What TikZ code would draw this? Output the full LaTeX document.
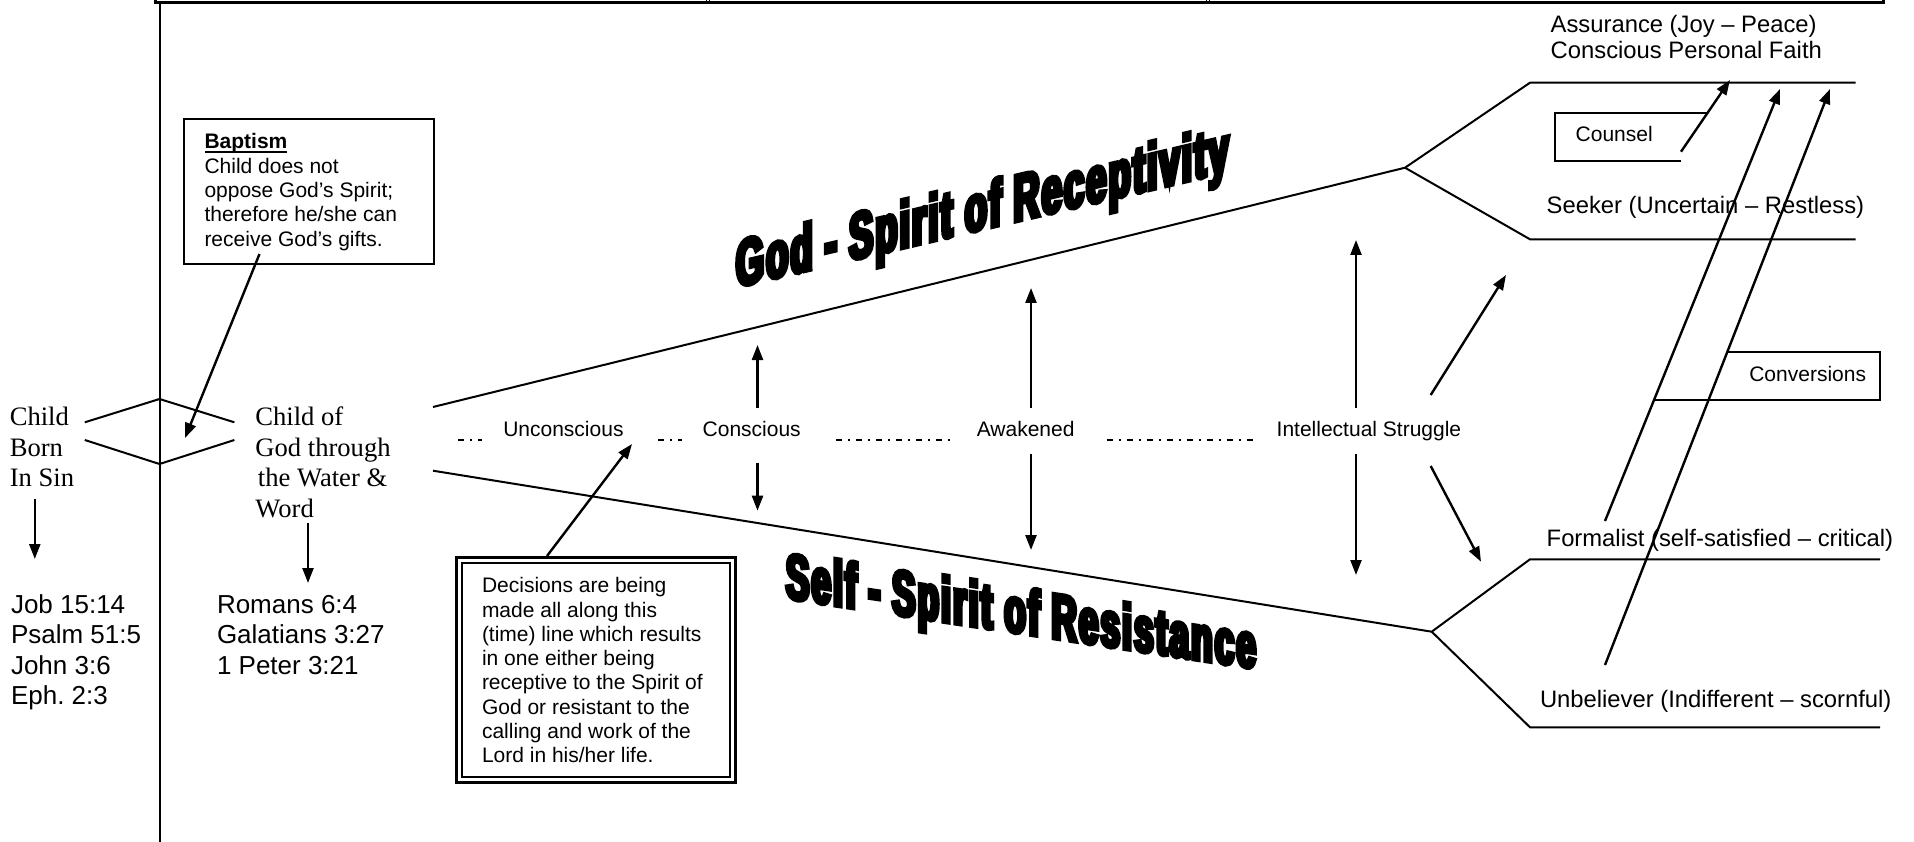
\documentclass[tikz,border=0pt]{standalone}
\usepackage{fontspec}
\setmainfont{Liberation Serif}
\newfontfamily\arial{Liberation Sans}
\newfontfamily\tnr{Liberation Serif}
\newfontfamily\wordart{Liberation Sans}[FakeStretch=0.545,FakeBold=7,LetterSpace=3.5]
\usetikzlibrary{arrows.meta}
\newcommand\mylines[1]{\begin{tabular}[t]{@{}l@{}}#1\end{tabular}}
\newcommand\myul[1]{\setbox0\hbox{#1}\rlap{\rule[-4.5pt]{\wd0}{2pt}}\box0}
\begin{document}
\begin{tikzpicture}[x=1pt,y=-1pt,
  ln/.style={line width=2pt},
  arr/.style={line width=2.4pt,-{Triangle[length=15pt,width=11pt]}},
  sm/.style={inner sep=0pt,outer sep=0pt,anchor=base west,font=\arial\fontsize{21}{24.3}\selectfont},
  big/.style={inner sep=0pt,outer sep=0pt,anchor=base west,font=\arial\fontsize{23.8}{26.7}\selectfont},
  ref/.style={inner sep=0pt,outer sep=0pt,anchor=base west,font=\arial\fontsize{26}{30.5}\selectfont},
  serif/.style={inner sep=0pt,outer sep=0pt,anchor=base west,font=\tnr\fontsize{26.6}{30.5}\selectfont},
  boxed/.style={draw,inner sep=0pt,outer sep=0pt,anchor=north west},
  dd/.style={line width=1.5pt,dash pattern=on 6pt off 6pt on 2pt off 6pt},
  title/.style={inner sep=0pt,outer sep=0pt,anchor=base west,transform shape}
]
\useasboundingbox[fill=white] (0,0) rectangle (1914,842);

% frame
\draw[line width=3pt] (155.5,0) -- (155.5,2.5) -- (1883.5,2.5) -- (1883.5,0);
\draw[line width=1pt] (706,0) -- (706,3) (709,0) -- (709,3) (1206,0) -- (1206,3) (1209,0) -- (1209,3);
\draw[ln] (159.5,2.5) -- (159.5,842);

% diamond
\draw[ln] (84.8,422.3) -- (159.5,399) -- (234.4,422.3);
\draw[ln] (84.8,440) -- (159.5,464) -- (234.4,440);

% left texts
\node[serif] (sin) at (9.8,425.7) {\mylines{Child\\Born\\In Sin}};
\node[serif] (child) at (255.4,425.7) {\mylines{Child of\\God through\\\hspace{2.5pt}the Water \&\\Word}};
\node[ref] (refs1) at (11,613.3) {\mylines{Job 15:14\\Psalm 51:5\\John 3:6\\Eph.\ 2:3}};
\node[ref] (refs2) at (217,613.3) {\mylines{Romans 6:4\\Galatians 3:27\\1 Peter 3:21}};
\coordinate (s1) at (34.8,499); \coordinate (s2) at (34.8,559);
\coordinate (w1) at (308,523); \coordinate (w2) at (308,583);
\draw[arr] (s1) -- (s2);
\draw[arr] (w1) -- (w2);

% baptism box
\node[boxed,line width=2pt,minimum width=250pt,minimum height=145pt] (bapbox) at (184,119) {};
\node[sm] (baptext) at (204.5,149) {\mylines{\myul{\textbf{Baptism}}\\Child does not\\oppose God’s Spirit;\\therefore he/she can\\receive God’s gifts.}};
\coordinate (b1) at (259.5,254); \coordinate (b2) at (185,438);
\draw[arr] (b1) -- (b2);

% decisions box
\node[boxed,line width=3pt,minimum width=279pt,minimum height=225pt] (decout) at (456.5,557.5) {};
\node[boxed,line width=1.5pt,minimum width=268pt,minimum height=214pt] (decin) at (462,563) {};
\node[sm] (dectext) at (482,592.7) {\mylines{Decisions are being\\made all along this\\(time) line which results\\in one either being\\receptive to the Spirit of\\God or resistant to the\\calling and work of the\\Lord in his/her life.}};
\coordinate (d1) at (547,556); \coordinate (d2) at (632,444);
\draw[arr] (d1) -- (d2);

% stage labels
\node[sm] (unc) at (503.3,436) {Unconscious};
\node[sm] (con) at (702.7,436) {Conscious};
\node[sm] (awa) at (976.8,436) {Awakened};
\node[sm] (int) at (1276.7,436) {Intellectual Struggle};
\draw[dd] (458.3,440) -- (482.3,440);
\draw[dd] (658.3,440) -- (682.3,440);
\draw[dd] (836,440) -- (955.4,440);
\draw[dd] (1106.7,440) -- (1253.3,440);

% main lines
\coordinate (u0) at (433,407); \coordinate (uv) at (1405,167.7);
\coordinate (l0) at (433,470.7); \coordinate (lv) at (1431.7,631.7);
\draw[ln] (u0) -- (uv) -- (1530,82.7) -- (1855.7,82.7);
\draw[ln] (uv) -- (1530,239.3) -- (1855.7,239.3);
\draw[ln] (l0) -- (lv) -- (1530,559.3) -- (1880,559.3);
\draw[ln] (lv) -- (1530,727.3) -- (1880,727.3);

% vertical arrows
\coordinate (c1) at (757.5,408); \coordinate (c2) at (757.5,345);
\coordinate (c3) at (757.5,462.7); \coordinate (c4) at (757.5,510.7);
\coordinate (a1) at (1031,408); \coordinate (a2) at (1031,288);
\coordinate (a3) at (1031,454); \coordinate (a4) at (1031,550);
\coordinate (i1) at (1356,408); \coordinate (i2) at (1356,240);
\coordinate (i3) at (1356,454); \coordinate (i4) at (1356,575);
\coordinate (g1) at (1430.7,395); \coordinate (g2) at (1506,275);
\coordinate (g3) at (1430.7,466); \coordinate (g4) at (1481,561.7);
\draw[arr] (c1) -- (c2); \draw[arr] (c3) -- (c4);
\draw[arr] (a1) -- (a2); \draw[arr] (a3) -- (a4);
\draw[arr] (i1) -- (i2); \draw[arr] (i3) -- (i4);
\draw[arr] (g1) -- (g2); \draw[arr] (g3) -- (g4);

% right labels
\node[big] (assur) at (1550.7,32.3) {\mylines{Assurance (Joy – Peace)\\Conscious Personal Faith}};
\node[big] (seek) at (1546.7,213.3) {Seeker (Uncertain – Restless)};
\node[big] (form) at (1546.7,546.7) {Formalist (self-satisfied – critical)};
\node[big] (unbel) at (1540,707.3) {Unbeliever (Indifferent – scornful)};

% counsel
\draw[ln] (1707.6,112.7) -- (1555.3,112.7) -- (1555.3,160.7) -- (1681,160.7);
\node[sm] (coun) at (1575.7,141.7) {Counsel};
\coordinate (k1) at (1681,151.7); \coordinate (k2) at (1730,80);
\draw[arr] (k1) -- (k2);

% conversions
\draw[ln] (1728.3,352.3) -- (1880,352.3) -- (1880,400) -- (1655,400);
\node[sm] (conv) at (1749.3,381.7) {Conversions};
\coordinate (v1) at (1605,521); \coordinate (v2) at (1780,89);
\coordinate (v3) at (1605,665); \coordinate (v4) at (1830,89);
\draw[arr] (v1) -- (v2);
\draw[arr] (v3) -- (v4);

% word-art titles
\begin{scope}[shift={(736,287)},yslant=0.235]
  \node[title,font=\wordart\bfseries\fontsize{66}{66}\selectfont] (godt) at (0,0) {God - Spirit of Receptivity};
\end{scope}
\begin{scope}[shift={(786,598)},yslant=-0.15]
  \node[title,font=\wordart\bfseries\fontsize{64}{64}\selectfont] (selft) at (0,0) {Self - Spirit of Resistance};
\end{scope}
\end{tikzpicture}
\end{document}
